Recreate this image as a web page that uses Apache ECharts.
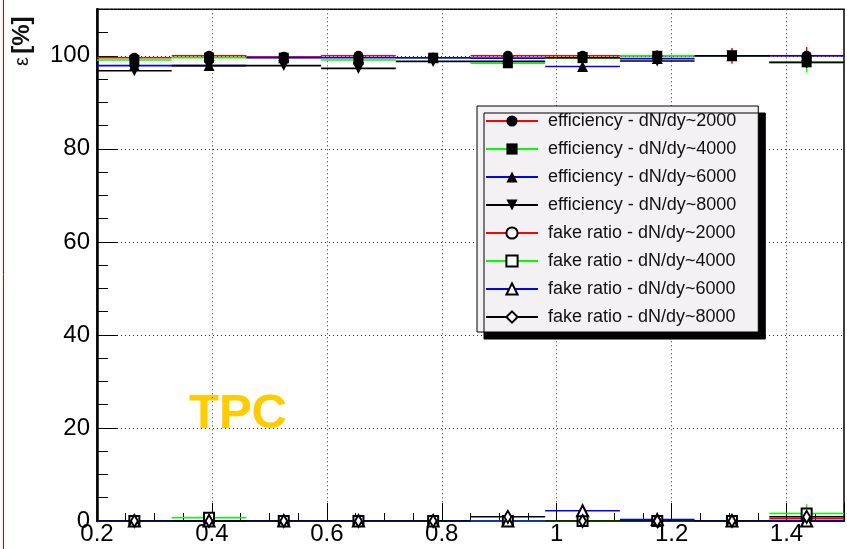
<!DOCTYPE html>
<html>
<head>
<meta charset="utf-8">
<script src="https://cdn.jsdelivr.net/npm/echarts@6/dist/echarts.min.js"></script>
<style>
  html, body { margin: 0; padding: 0; background: #fff; }
  #chart { width: 847px; height: 549px; }
</style>
</head>
<body>
<div id="chart"></div>
<script>
// pT bins (bin centres and half width)
const binCenters = [0.265, 0.395, 0.525, 0.655, 0.785, 0.915, 1.045, 1.175, 1.305, 1.435];
const binHalfWidth = 0.065;

// axis tick labels
const xTickLabels = ['0.2', '0.4', '0.6', '0.8', '1', '1.2', '1.4'];
const yTickLabels = ['0', '20', '40', '60', '80', '100'];

// series names
const seriesNames = [
  'efficiency - dN/dy~2000',
  'efficiency - dN/dy~4000',
  'efficiency - dN/dy~6000',
  'efficiency - dN/dy~8000',
  'fake ratio - dN/dy~2000',
  'fake ratio - dN/dy~4000',
  'fake ratio - dN/dy~6000',
  'fake ratio - dN/dy~8000'
];

// tracking efficiency [%]
const eff2000 = [99.6, 100.0, 99.8, 100.0, 99.6, 100.0, 100.0, 100.0, 100.0, 100.0];
const eff4000 = [99.1, 99.6, 99.6, 99.1, 99.6, 98.4, 99.5, 100.0, 100.0, 98.6];
const eff6000 = [97.9, 97.9, 99.6, 99.6, 99.6, 99.5, 97.7, 99.4, 100.0, 100.0];
const eff8000 = [96.8, 97.9, 97.9, 97.3, 98.8, 98.8, 99.6, 98.9, 100.0, 98.6];

// statistical errors on the efficiency [%]
const eff2000Err = [0.3, 0.3, 0.3, 0.3, 0.3, 0.4, 0.6, 1.2, 1.7, 1.9];
const eff4000Err = [0.3, 0.3, 0.3, 0.3, 0.3, 0.4, 0.5, 0.8, 1.0, 2.2];
const eff6000Err = [0.3, 0.3, 0.3, 0.3, 0.3, 0.4, 0.8, 0.8, 1.0, 1.0];
const eff8000Err = [0.4, 0.4, 0.4, 0.4, 0.4, 0.4, 0.6, 0.8, 1.0, 1.2];

// fake track ratio [%]
const fake2000 = [0.0, 0.0, 0.0, 0.0, 0.0, 0.0, 0.0, 0.0, 0.0, 0.5];
const fake4000 = [0.0, 0.7, 0.0, 0.0, 0.0, 0.0, 0.0, 0.0, 0.0, 1.6];
const fake6000 = [0.0, 0.0, 0.0, 0.0, 0.0, 0.0, 2.2, 0.3, 0.0, 0.0];
const fake8000 = [0.0, 0.0, 0.0, 0.0, 0.0, 0.9, 0.0, 0.0, 0.0, 0.9];

const fake2000Err = [0.1, 0.1, 0.1, 0.1, 0.1, 0.1, 0.2, 0.6, 0.6, 0.8];
const fake4000Err = [0.1, 0.4, 0.1, 0.1, 0.1, 0.1, 0.2, 0.3, 0.3, 2.0];
const fake6000Err = [0.1, 0.1, 0.1, 0.1, 0.1, 0.1, 0.8, 0.3, 0.3, 0.4];
const fake8000Err = [0.1, 0.1, 0.1, 0.1, 0.1, 0.4, 0.2, 0.3, 0.3, 0.6];

const FONT = '"Liberation Sans", Arial, Helvetica, sans-serif';
const lineColors = ['#ff0000', '#00ff00', '#0000ff', '#000000'];

const groups = [
  { vals: eff2000, errs: eff2000Err, color: lineColors[0], symbol: 'circle',        size: 10, rot: 0 },
  { vals: eff4000, errs: eff4000Err, color: lineColors[1], symbol: 'rect',          size: 10, rot: 0 },
  { vals: eff6000, errs: eff6000Err, color: lineColors[2], symbol: 'triangle',      size: 11, rot: 0 },
  { vals: eff8000, errs: eff8000Err, color: lineColors[3], symbol: 'triangle',      size: 11, rot: 180 },
  { vals: fake2000, errs: fake2000Err, color: lineColors[0], symbol: 'emptyCircle',   size: 9, rot: 0 },
  { vals: fake4000, errs: fake4000Err, color: lineColors[1], symbol: 'emptyRect',     size: 10, rot: 0 },
  { vals: fake6000, errs: fake6000Err, color: lineColors[2], symbol: 'emptyTriangle', size: 11, rot: 0 },
  { vals: fake8000, errs: fake8000Err, color: lineColors[3], symbol: 'emptyDiamond',  size: [7, 12], rot: 0 }
];

// horizontal bars spanning each bin, marker at the bin centre, gaps between bins
function binSegments(vals) {
  const out = [];
  vals.forEach((v, i) => {
    const c = binCenters[i];
    out.push({ value: [c - binHalfWidth, v], symbol: 'none' });
    out.push({ value: [c, v] });
    out.push({ value: [c + binHalfWidth, v], symbol: 'none' });
    out.push({ value: [c + binHalfWidth, '-'] });
  });
  return out;
}

function errorBarSeries(g) {
  return {
    type: 'custom',
    name: '_err',
    silent: true,
    data: g.vals.map((v, i) => [binCenters[i], v, g.errs[i]]),
    renderItem: function (params, api) {
      const x = api.value(0), y = api.value(1), e = api.value(2);
      const p0 = api.coord([x, y - e]);
      const p1 = api.coord([x, y + e]);
      return {
        type: 'line',
        shape: { x1: p0[0], y1: p0[1], x2: p1[0], y2: p1[1] },
        style: { stroke: g.color, lineWidth: 1.5 }
      };
    },
    z: 2
  };
}

const series = [];
groups.forEach((g, k) => {
  series.push(errorBarSeries(g));
  const empty = g.symbol.indexOf('empty') === 0;
  series.push({
    type: 'line',
    name: seriesNames[k],
    data: binSegments(g.vals),
    symbol: g.symbol,
    symbolSize: g.size,
    symbolRotate: g.rot,
    showSymbol: true,
    showAllSymbol: true,
    connectNulls: false,
    lineStyle: { color: g.color, width: 1.6 },
    itemStyle: empty ? { color: '#000', borderColor: '#000', borderWidth: 1.3 } : { color: '#000', borderWidth: 0 },
    emphasis: { disabled: true },
    z: 3
  });
});

const chart = echarts.init(document.getElementById('chart'), null, { renderer: 'canvas' });
chart.setOption({
  animation: false,
  backgroundColor: '#ffffff',
  grid: {
    left: 97, top: 9.3, bottom: 28, right: -7,
    show: true, borderColor: '#000', borderWidth: 1.5, backgroundColor: '#fff'
  },
  xAxis: [
    {
      type: 'value', min: 0.2, max: 1.5, interval: 0.2,
      axisLine: { show: true, onZero: false, lineStyle: { color: '#000', width: 2 } },
      axisTick: { show: true, inside: true, length: 18, lineStyle: { color: '#000', width: 1 } },
      splitLine: { show: true, lineStyle: { color: '#333', width: 1, type: [1, 3] } },
      axisLabel: {
        fontFamily: FONT, fontSize: 24, color: '#000', margin: 1,
        formatter: v => { const i = Math.round((v - 0.2) / 0.2); return (Math.abs(v - (0.2 + 0.2 * i)) < 1e-6 && xTickLabels[i]) ? xTickLabels[i] : ''; }
      }
    },
    // minor ticks every 0.05
    {
      type: 'value', min: 0.2, max: 1.5, interval: 0.05, position: 'bottom',
      axisLine: { show: false },
      axisTick: { show: true, inside: true, length: 8, lineStyle: { color: '#000', width: 1 } },
      splitLine: { show: false },
      axisLabel: { show: false }
    }
  ],
  yAxis: [
    {
      type: 'value', min: 0, max: 110, interval: 20,
      axisLine: { show: true, onZero: false, lineStyle: { color: '#000', width: 2.5 } },
      axisTick: { show: true, inside: true, length: 21, lineStyle: { color: '#000', width: 1 } },
      splitLine: { show: true, lineStyle: { color: '#333', width: 1, type: [1, 3] } },
      axisLabel: {
        fontFamily: FONT, fontSize: 24, color: '#000', margin: 7, showMaxLabel: false,
        formatter: v => { const i = Math.round(v / 20); return (Math.abs(v - 20 * i) < 1e-6 && yTickLabels[i]) ? yTickLabels[i] : ''; }
      }
    },
    // minor ticks every 5
    {
      type: 'value', min: 0, max: 110, interval: 5, position: 'left',
      axisLine: { show: false },
      axisTick: { show: true, inside: true, length: 11, lineStyle: { color: '#000', width: 1 } },
      splitLine: { show: false },
      axisLabel: { show: false }
    }
  ],
  legend: {
    data: seriesNames,
    orient: 'vertical',
    left: 477, top: 106,
    itemWidth: 52, itemHeight: 14, itemGap: 10,
    padding: [6, 22, 6, 8],
    backgroundColor: '#f4f1f4',
    borderColor: '#000', borderWidth: 1,
    shadowColor: '#000', shadowBlur: 0, shadowOffsetX: 7, shadowOffsetY: 7,
    selectedMode: false,
    textStyle: { fontFamily: FONT, fontSize: 18, color: '#111', padding: [0, 0, 0, 5] }
  },
  graphic: [
    { type: 'line', shape: { x1: 3.5, y1: 0, x2: 3.5, y2: 549 }, style: { stroke: '#d40000', lineWidth: 1 }, silent: true },
    {
      type: 'text', x: 22, y: 66, rotation: Math.PI / 2, silent: true,
      style: {
        text: '{e|ε} {b|[%]}',
        textAlign: 'left', textVerticalAlign: 'middle',
        rich: {
          e: { fontFamily: FONT, fontSize: 20, fill: '#111' },
          b: { fontFamily: FONT, fontSize: 24, fontWeight: 'bold', fill: '#111' }
        }
      }
    },
    {
      type: 'text', left: 189, top: 390, silent: true,
      style: { text: 'TPC', fontFamily: FONT, fontSize: 49, fontWeight: 'bold', fill: '#ffcc00' }
    }
  ],
  series: series
});
</script>
</body>
</html>
